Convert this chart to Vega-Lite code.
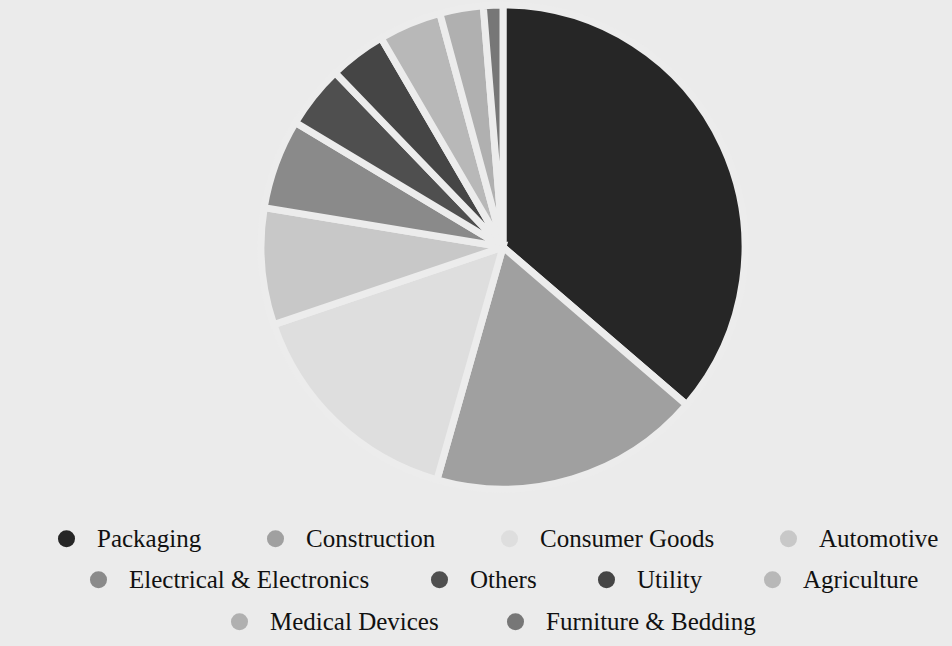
{
  "$schema": "https://vega.github.io/schema/vega-lite/v6.json",
  "width": 1006,
  "height": 494,
  "autosize": {"type": "none"},
  "padding": {"left": 0, "top": 0, "right": 0, "bottom": 152},
  "background": "#ebebeb",
  "data": {"values": [
    {"sector": "Packaging", "share": 36.3, "rank": 1},
    {"sector": "Construction", "share": 18.1, "rank": 2},
    {"sector": "Consumer Goods", "share": 15.4, "rank": 3},
    {"sector": "Automotive", "share": 7.8, "rank": 4},
    {"sector": "Electrical & Electronics", "share": 6.0, "rank": 5},
    {"sector": "Others", "share": 4.2, "rank": 6},
    {"sector": "Utility", "share": 3.8, "rank": 7},
    {"sector": "Agriculture", "share": 4.2, "rank": 8},
    {"sector": "Medical Devices", "share": 2.9, "rank": 9},
    {"sector": "Furniture & Bedding", "share": 1.3, "rank": 10}
  ]},
  "layer": [
    {
      "mark": {"type": "arc", "radius": 242, "stroke": "#ececec", "strokeWidth": 7},
      "encoding": {
        "theta": {"field": "share", "type": "quantitative", "stack": true},
        "order": {"field": "rank", "type": "quantitative"},
        "color": {
          "field": "sector", "type": "nominal", "legend": null,
          "scale": {
            "domain": ["Packaging", "Construction", "Consumer Goods", "Automotive", "Electrical & Electronics", "Others", "Utility", "Agriculture", "Medical Devices", "Furniture & Bedding"],
            "range": ["#262626", "#a0a0a0", "#dedede", "#c8c8c8", "#8a8a8a", "#4f4f4f", "#454545", "#b8b8b8", "#b0b0b0", "#777777"]
          }
        }
      }
    },
    {
      "transform": [{"filter": "datum.rank <= 4"}],
      "mark": {"type": "arc", "radius": 1, "opacity": 0},
      "encoding": {
        "theta": {"field": "share", "type": "quantitative", "stack": true},
        "order": {"field": "rank", "type": "quantitative"},
        "color": {
          "field": "sector", "type": "nominal",
          "scale": {
            "domain": ["Packaging", "Construction", "Consumer Goods", "Automotive"],
            "range": ["#262626", "#a0a0a0", "#dedede", "#c8c8c8"]
          },
          "legend": {
            "title": null, "orient": "none", "direction": "horizontal",
            "legendX": 54, "legendY": 526, "columnPadding": 61
          }
        }
      }
    },
    {
      "transform": [{"filter": "datum.rank >= 5 && datum.rank <= 8"}],
      "mark": {"type": "arc", "radius": 1, "opacity": 0},
      "encoding": {
        "theta": {"field": "share", "type": "quantitative", "stack": true},
        "order": {"field": "rank", "type": "quantitative"},
        "color": {
          "field": "sector", "type": "nominal",
          "scale": {
            "domain": ["Electrical & Electronics", "Others", "Utility", "Agriculture"],
            "range": ["#8a8a8a", "#4f4f4f", "#454545", "#b8b8b8"]
          },
          "legend": {
            "title": null, "orient": "none", "direction": "horizontal",
            "legendX": 86, "legendY": 567, "columnPadding": 57
          }
        }
      }
    },
    {
      "transform": [{"filter": "datum.rank >= 9"}],
      "mark": {"type": "arc", "radius": 1, "opacity": 0},
      "encoding": {
        "theta": {"field": "share", "type": "quantitative", "stack": true},
        "order": {"field": "rank", "type": "quantitative"},
        "color": {
          "field": "sector", "type": "nominal",
          "scale": {
            "domain": ["Medical Devices", "Furniture & Bedding"],
            "range": ["#b0b0b0", "#777777"]
          },
          "legend": {
            "title": null, "orient": "none", "direction": "horizontal",
            "legendX": 227, "legendY": 609, "columnPadding": 64
          }
        }
      }
    }
  ],
  "resolve": {"scale": {"color": "independent"}},
  "config": {
    "view": {"stroke": null},
    "legend": {
      "symbolType": "circle",
      "symbolSize": 290,
      "symbolOpacity": 1,
      "symbolStrokeWidth": 0,
      "labelFont": "Liberation Serif",
      "labelFontSize": 25,
      "labelColor": "#111111",
      "labelOffset": 18,
      "labelLimit": 400
    }
  }
}
